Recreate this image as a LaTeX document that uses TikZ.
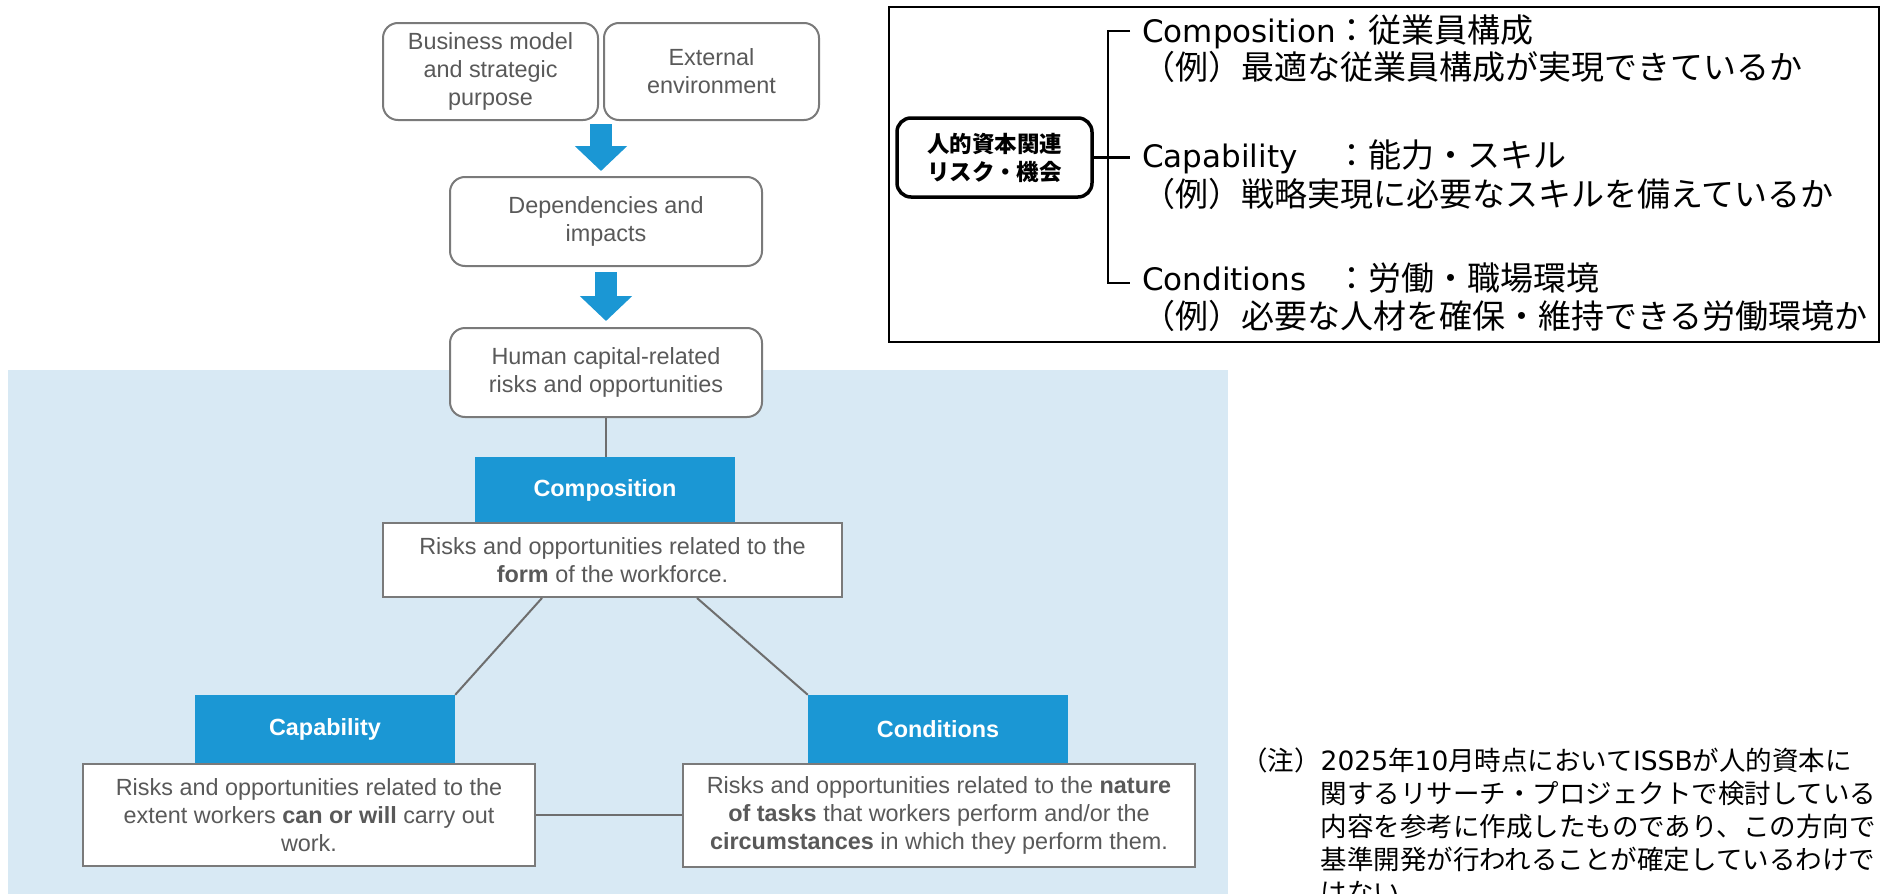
\documentclass[tikz,border=0pt]{standalone}
\usepackage{fontspec}
\setmainfont{Liberation Sans}
\newfontfamily\jpfont{Noto Sans CJK JP}
\newfontfamily\latfont{DejaVu Sans}
\usetikzlibrary{arrows.meta,calc}

\definecolor{headblue}{RGB}{27,151,212}
\definecolor{bgblue}{RGB}{216,233,244}
\definecolor{boxgray}{RGB}{122,122,122}
\definecolor{txtgray}{RGB}{89,89,89}
\definecolor{linkgray}{RGB}{110,110,110}

\newcommand\diagfont{\fontsize{23.4}{28}\selectfont}
\newcommand\enword[1]{{\latfont\fontsize{31}{40}\selectfont #1}}

\tikzset{
  flowbox/.style={draw=boxgray, line width=2pt, rounded corners=15pt, fill=white,
    inner sep=0pt, align=center, text=txtgray, font=\diagfont},
  headbox/.style={fill=headblue, inner sep=0pt, text=white, font=\diagfont\bfseries},
  descbox/.style={draw=boxgray, line width=2pt, fill=white, inner sep=0pt,
    align=center, text=txtgray, font=\diagfont},
  link/.style={draw=linkgray, line width=2pt},
  blockarrow/.style={draw=headblue, line width=22pt, -{Triangle[width=51pt,length=25pt]}},
  riskbox/.style={draw=black, line width=3.5pt, rounded corners=14pt, inner sep=0pt,
    align=center, font=\jpfont\bfseries\fontsize{22.5}{28}\selectfont},
  tree/.style={draw=black, line width=2.5pt},
  treelabel/.style={anchor=base west, inner sep=0pt, font=\jpfont\fontsize{33}{40}\selectfont}
}

\begin{document}
\begin{tikzpicture}[x=1pt,y=-1pt]
    \useasboundingbox (0,0) rectangle (1883,894);
    \fill[bgblue] (8,370) rectangle (1228,894);

    % flow on the left
    \node[flowbox, minimum width=215pt, minimum height=97pt] (biz) at (490.5,71.5) {Business model\\and strategic\\purpose};
    \node[flowbox, minimum width=215pt, minimum height=97pt] (ext) at (711.5,71.5) {External\\environment};
    \node[flowbox, minimum width=312pt, minimum height=89pt] (dep) at (606,221.5) {Dependencies and\\impacts};
    \node[flowbox, minimum width=312pt, minimum height=89pt] (hum) at (606,372.5) {Human capital-related\\risks and opportunities};
    \coordinate (split) at ($(biz.south east)!.5!(ext.south west)$);
    \draw[blockarrow] ([yshift=-3pt]split) -- ([yshift=5pt]split |- dep.north);
    \draw[blockarrow] ([yshift=-5pt]dep.south) -- ([yshift=6pt]hum.north);

    % the three areas
    \node[headbox, minimum width=260pt, minimum height=66pt] (comphead) at (605,490) {Composition};
    \node[descbox, minimum width=459pt, minimum height=74pt] (compdesc) at (612.5,560) {Risks and opportunities related to the\\\textbf{form} of the workforce.};
    \node[headbox, minimum width=260pt, minimum height=69pt] (caphead) at (325,729.5) {Capability};
    \node[descbox, minimum width=452pt, minimum height=102pt] (capdesc) at (309,815) {Risks and opportunities related to the\\extent workers \textbf{can or will} carry out\\work.};
    \node[headbox, minimum width=260pt, minimum height=69pt] (condhead) at (938,729.5) {Conditions};
    \node[descbox, minimum width=512pt, minimum height=103pt] (conddesc) at (939,815.5) {Risks and opportunities related to the \textbf{nature}\\\textbf{of tasks} that workers perform and/or the\\\textbf{circumstances} in which they perform them.};
    \draw[link] (hum.south) -- (hum.south |- comphead.north);
    \draw[link] ([xshift=-70.5pt]compdesc.south) -- (caphead.north east);
    \draw[link] ([xshift=84.5pt]compdesc.south) -- (condhead.north west);
    \draw[link] (capdesc.east) -- (capdesc.east -| conddesc.west);

    % panel on the right
    \node[draw=black, line width=2.5pt, minimum width=990pt, minimum height=335pt, inner sep=0pt] (panel) at (1384,174.5) {};
    \node[riskbox, minimum width=195pt, minimum height=79pt] (risk) at (994.5,157.5) {人的資本関連\\リスク・機会};
    \coordinate (tcomp) at (1130,31);
    \coordinate (tcap) at (1130,157.5);
    \coordinate (tcond) at (1130,283);
    \draw[tree] (tcomp) -- ++(-22,0) |- (tcond);
    \draw[tree] (risk.east) -- (tcap);
    \node[treelabel] (lcomp) at (1142,42) {\makebox[193pt][l]{\enword{Composition}}：従業員構成};
    \node[treelabel] (lcompex) at (1142,79) {（例）最適な従業員構成が実現できているか};
    \node[treelabel] (lcap) at (1142,167) {\makebox[193pt][l]{\enword{Capability}}：能力・スキル};
    \node[treelabel] (lcapex) at (1142,206) {（例）戦略実現に必要なスキルを備えているか};
    \node[treelabel] (lcond) at (1142,290) {\makebox[193pt][l]{\enword{Conditions}}：労働・職場環境};
    \node[treelabel] (lcondex) at (1142,328) {（例）必要な人材を確保・維持できる労働環境か};

    % note
    \node[anchor=base west, inner sep=0pt, font=\jpfont\fontsize{26.5}{33}\selectfont] (note) at (1241,770) {\begin{tabular}[t]{@{}l@{}l@{}}
      （注）&{\latfont 2025}年{\latfont 10}月時点において{\latfont ISSB}が人的資本に\\
      &関するリサーチ・プロジェクトで検討している\\
      &内容を参考に作成したものであり、この方向で\\
      &基準開発が行われることが確定しているわけで\\
      &はない
    \end{tabular}};
\end{tikzpicture}
\end{document}
